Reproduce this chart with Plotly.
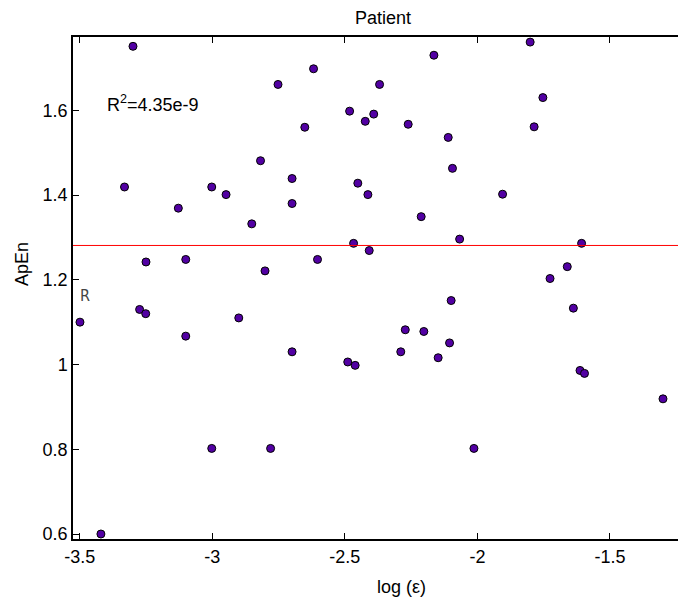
import plotly.graph_objects as go

# Data
log_eps = [
    -3.299, -2.752, -2.818, -3.331, -3.002, -2.948, -3.128, -2.851, -3.250, -3.100, -2.801,
    -2.618, -2.164, -2.369, -2.482, -2.391, -2.423, -2.651, -2.261, -2.110, -2.094, -2.699,
    -2.451, -2.413, -2.699, -2.212, -2.067, -2.467, -2.408, -2.603,
    -3.499, -3.274, -3.251, -2.900, -3.100, -3.002, -2.780, -3.420,
    -2.099, -2.272, -2.202, -2.105, -2.699, -2.289, -2.148, -2.489, -2.461, -2.013,
    -1.801, -1.753, -1.786, -1.905,
    -1.607, -1.661, -1.726, -1.638, -1.218, -1.613, -1.596, -1.300,
]
apen = [
    1.751, 1.661, 1.481, 1.419, 1.419, 1.401, 1.369, 1.332, 1.242, 1.248, 1.221,
    1.698, 1.730, 1.661, 1.598, 1.591, 1.574, 1.560, 1.567, 1.536, 1.463, 1.439,
    1.428, 1.401, 1.380, 1.349, 1.296, 1.286, 1.269, 1.248,
    1.100, 1.130, 1.120, 1.110, 1.067, 0.802, 0.802, 0.600,
    1.151, 1.082, 1.078, 1.051, 1.030, 1.030, 1.016, 1.006, 0.998, 0.802,
    1.761, 1.630, 1.561, 1.402,
    1.286, 1.231, 1.203, 1.133, 1.020, 0.986, 0.979, 0.919,
]
mean_apen = 1.281
r2_text = "R<sup>2</sup>=4.35e-9"
x_ticks = [-3.5, -3, -2.5, -2, -1.5]
x_ticklabels = ["-3.5", "-3", "-2.5", "-2", "-1.5"]
y_ticks = [0.6, 0.8, 1.0, 1.2, 1.4, 1.6]
y_ticklabels = ["0.6", "0.8", "1", "1.2", "1.4", "1.6"]

FONT = "Liberation Sans, Arial, sans-serif"

fig = go.Figure()
fig.add_trace(go.Scatter(
    x=log_eps, y=apen, mode="markers",
    marker=dict(size=8, color="#5200a3", line=dict(color="black", width=1)),
    cliponaxis=True, showlegend=False, hoverinfo="x+y",
))
fig.add_hline(y=mean_apen, line=dict(color="red", width=1))

# page has an 8px body margin; figure coordinates = screen - 8
W, H = 678, 594
L, R, T, B = 65, 0, 29, 63

def px(x):
    return (x - L) / (W - L)

def py(y):
    return (H - B - y) / (H - T - B)

fig.update_layout(
    width=W, height=H,
    margin=dict(l=L, r=R, t=T, b=B, pad=0),
    paper_bgcolor="white", plot_bgcolor="white",
    font=dict(family=FONT, size=18, color="black"),
    title=dict(text="Patient", x=375 / W, xref="container", xanchor="center",
               y=1 - 3 / H, yref="container", yanchor="top",
               font=dict(family=FONT, size=18, color="black")),
    xaxis=dict(
        range=[-3.5 - 6.7 / 265, -3.5 + (686 - 80) / 265],
        tickvals=x_ticks, ticktext=x_ticklabels,
        ticks="inside", ticklen=6, tickwidth=1, tickcolor="black",
        showline=True, linecolor="black", linewidth=1.5, mirror="ticks",
        showgrid=False, zeroline=False,
        tickfont=dict(family=FONT, size=18, color="black"),
        ticklabelstandoff=1,
    ),
    yaxis=dict(
        range=[0.6 - 5 / 423.7, 0.6 + 497 / 423.7],
        tickvals=y_ticks, ticktext=y_ticklabels,
        ticks="inside", ticklen=6, tickwidth=1, tickcolor="black",
        showline=True, linecolor="black", linewidth=1.5, mirror=False,
        showgrid=False, zeroline=False,
        tickfont=dict(family=FONT, size=18, color="black"),
        ticklabelstandoff=0,
    ),
)

fig.add_annotation(text=r2_text, xref="paper", yref="paper",
                   x=px(97), y=py(95),
                   xanchor="left", yanchor="middle", showarrow=False,
                   font=dict(family=FONT, size=18, color="black"))
fig.add_annotation(text="ApEn", xref="paper", yref="paper", textangle=-90,
                   x=px(14), y=py(256),
                   xanchor="center", yanchor="middle", showarrow=False,
                   font=dict(family=FONT, size=18, color="black"))
fig.add_annotation(text="log (ε)", xref="paper", yref="paper",
                   x=px(393), y=py(579),
                   xanchor="center", yanchor="middle", showarrow=False,
                   font=dict(family=FONT, size=18, color="black"))
fig.add_annotation(text="R", xref="paper", yref="paper",
                   x=px(77), y=py(287),
                   xanchor="center", yanchor="middle", showarrow=False,
                   font=dict(family="DejaVu Sans Condensed, DejaVu Sans", size=16, color="#444444"))

fig.write_html("out.html")
